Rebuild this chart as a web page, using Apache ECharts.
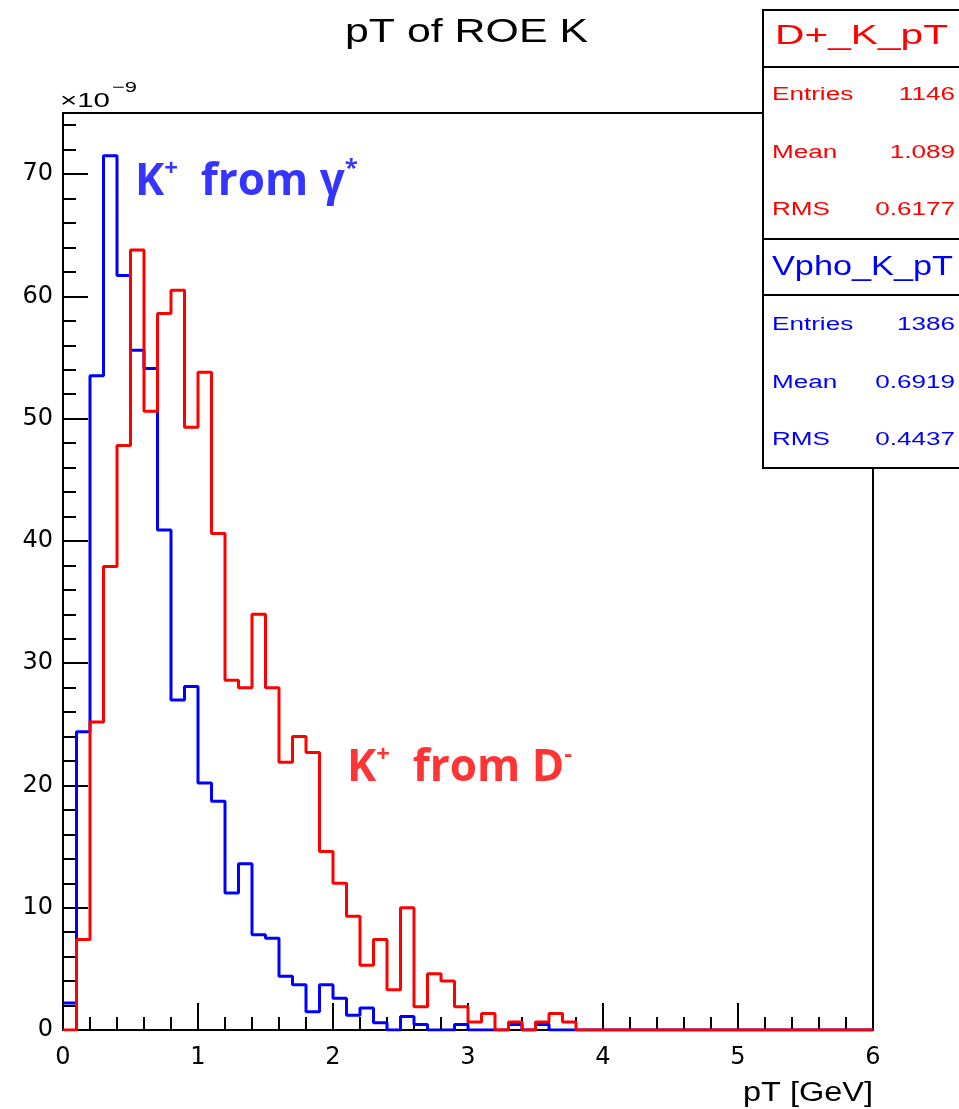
<!DOCTYPE html>
<html><head><meta charset="utf-8">
<script src="https://cdn.jsdelivr.net/npm/echarts@6/dist/echarts.min.js"></script>
<style>html,body{margin:0;padding:0;background:#fff}#c{width:959px;height:1109px}</style>
</head><body><div id="c"></div>
<script>
// ---------------- data ----------------
const binWidth = 0.1;                // GeV per bin, 60 bins from 0 to 6
const xTickLabels = ['0','1','2','3','4','5','6'];
const yTickLabels = ['0','10','20','30','40','50','60','70'];
const titleText = 'pT of ROE K';
const xAxisTitle = 'pT [GeV]';
const redName = 'D+_K_pT';
const blueName = 'Vpho_K_pT';
// bin contents (units of 1e-9)
const redValues = [
  0, 7.4, 25.2, 37.9, 47.8, 63.8, 50.6, 58.6, 60.5, 49.3,
  53.8, 40.6, 28.6, 28.0, 34.0, 28.0, 21.9, 24.0, 22.7, 14.6,
  12.0, 9.3, 5.3, 7.4, 3.3, 10.0, 1.9, 4.6, 4.0, 1.9,
  0.65, 1.35, 0, 0.65, 0, 0.65, 1.35, 0.65, 0, 0,
  0, 0, 0, 0, 0, 0, 0, 0, 0, 0,
  0, 0, 0, 0, 0, 0, 0, 0, 0, 0
];
const blueValues = [
  2.2, 24.4, 53.5, 71.5, 61.7, 55.6, 54.1, 40.9, 27.0, 28.1,
  20.2, 18.7, 11.2, 13.6, 7.8, 7.5, 4.4, 3.7, 1.5, 3.7,
  2.6, 1.2, 1.8, 0.6, 0, 1.1, 0.45, 0, 0, 0.45,
  0, 0, 0, 0.45, 0, 0.45, 0, 0, 0, 0,
  0, 0, 0, 0, 0, 0, 0, 0, 0, 0,
  0, 0, 0, 0, 0, 0, 0, 0, 0, 0
];
const redStats = [['Entries','1146'],['Mean','1.089'],['RMS','0.6177']];
const blueStats = [['Entries','1386'],['Mean','0.6919'],['RMS','0.4437']];

// ---------------- helpers ----------------
function stepData(vals){
  const d = vals.map((v,i)=>[+(i*binWidth).toFixed(2), v]);
  d.push([+(vals.length*binWidth).toFixed(2), vals[vals.length-1]]);
  return d;
}
const meas = document.createElement('canvas').getContext('2d');
function natWidth(text, size, family, weight){
  meas.font = (weight||'normal') + ' ' + size + 'px ' + family;
  return meas.measureText(text).width;
}
const LIB = '"Liberation Sans", Arial, sans-serif';
function txt(text, o){
  const fam = o.family || LIB;
  const sx = o.width ? o.width / natWidth(text, o.size, fam, o.weight) : (o.scaleX || 1);
  return {
    type:'text', z: 120, x:o.x, y:o.y, scaleX: sx, silent:true,
    style:{ text, x:0, y:0, fill:o.color||'#000', fontSize:o.size, fontFamily:fam,
      fontWeight:o.weight||'normal',
      align:o.align||'left', verticalAlign:'middle',
      textAlign:o.align||'left', textVerticalAlign:'middle' }
  };
}

// ---------------- layout ----------------
const GRID = {left:63, right:86, top:113, bottom:79};
const box = {x:763, y:10, w:205, h:458, sep:[67, 239, 295]};

const graphics = [];
// title
graphics.push(txt(titleText, {x:466.5, y:33, size:33, width:243, align:'center'}));
// x10^-9
graphics.push(txt('\u00d710', {x:60, y:101, size:21, width:50}));
graphics.push(txt('\u22129', {x:112, y:88, size:15, width:25}));
// axis title
graphics.push(txt(xAxisTitle, {x:873, y:1094, size:27, width:130, align:'right'}));
// stats box
graphics.push({type:'rect', z:110, silent:true, shape:{x:box.x, y:box.y, width:box.w, height:box.h},
  style:{fill:'#fff', stroke:'#000', lineWidth:2}});
box.sep.forEach(y => graphics.push({type:'line', z:111, silent:true,
  shape:{x1:box.x, y1:y, x2:box.x+box.w, y2:y}, style:{stroke:'#000', lineWidth:2}}));
graphics.push(txt(redName, {x:861.5, y:36, size:28, width:173, align:'center', color:'#ff0000'}));
graphics.push(txt(blueName, {x:862.5, y:267, size:28, width:181, align:'center', color:'#0000ff'}));
const redRows = [95, 153.5, 210];
const blueRows = [325, 383.5, 440];
redStats.forEach((r,i)=>{
  graphics.push(txt(r[0], {x:772, y:redRows[i], size:18, scaleX:1.45, color:'#ff0000'}));
  graphics.push(txt(r[1], {x:955, y:redRows[i], size:18, scaleX:1.45, align:'right', color:'#ff0000'}));
});
blueStats.forEach((r,i)=>{
  graphics.push(txt(r[0], {x:772, y:blueRows[i], size:18, scaleX:1.45, color:'#0000ff'}));
  graphics.push(txt(r[1], {x:955, y:blueRows[i], size:18, scaleX:1.45, align:'right', color:'#0000ff'}));
});
// annotations
function annot(parts, x, y, color){
  return {type:'text', z:120, x, y, silent:true,
    style:{ text: parts, x:0, y:0, fill:color, align:'left', verticalAlign:'middle',
      textAlign:'left', textVerticalAlign:'middle',
      rich:{
        b:{fontSize:44, fontWeight:'bold', fontFamily:'"Open Sans", sans-serif', fill:color, lineHeight:50},
        s:{fontSize:24, fontWeight:'bold', fontFamily:'"Open Sans", sans-serif', fill:color, verticalAlign:'top', lineHeight:30}
      } } };
}
graphics.push(annot('{b|K}{s|+}{b|  from \u03b3}{s|*}', 135, 182, '#3535ff'));
graphics.push(annot('{b|K}{s|+}{b|  from D}{s|-}', 347, 768, '#ff3535'));

const tickLine = {color:'#000', width:2};
const option = {
  animation:false,
  backgroundColor:'#fff',
  graphic: graphics,
  grid:[
    Object.assign({show:true, borderColor:'#000', borderWidth:2, backgroundColor:'transparent'}, GRID),
    Object.assign({show:false}, GRID)
  ],
  xAxis:[
    {gridIndex:0, type:'value', min:0, max:6, interval:1,
     axisLine:{show:true, lineStyle:tickLine},
     axisTick:{show:true, inside:true, length:27, lineStyle:tickLine},
     minorTick:{show:true, splitNumber:5, length:13, lineStyle:tickLine},
     splitLine:{show:false}, minorSplitLine:{show:false},
     axisLabel:{margin:16, color:'#000', fontSize:24, fontFamily:'"DejaVu Sans", sans-serif',
       formatter:(v)=>xTickLabels[Math.round(v)] ?? ''}},
    {gridIndex:1, type:'value', min:0, max:6, show:false}
  ],
  yAxis:[
    {gridIndex:0, type:'value', min:0, max:75, interval:10,
     axisLine:{show:true, lineStyle:tickLine},
     axisTick:{show:true, inside:true, length:25, lineStyle:tickLine},
     minorTick:{show:false},
     splitLine:{show:false},
     axisLabel:{margin:10, color:'#000', fontSize:24, fontFamily:'"DejaVu Sans", sans-serif',
       formatter:(v)=> (v % 10 === 0 && yTickLabels[v/10] !== undefined) ? yTickLabels[v/10] : ''}},
    {gridIndex:1, type:'value', min:0, max:75, interval:2,
     axisLine:{show:false},
     axisTick:{show:true, inside:true, length:13, lineStyle:tickLine},
     axisLabel:{show:false}, splitLine:{show:false}}
  ],
  series:[
    {name:blueName, type:'line', step:'end', xAxisIndex:0, yAxisIndex:0, data:stepData(blueValues),
     symbol:'none', showSymbol:false, lineStyle:{color:'#0000ff', width:3}, itemStyle:{color:'#0000ff'}, z:3, silent:true},
    {name:redName, type:'line', step:'end', xAxisIndex:0, yAxisIndex:0, data:stepData(redValues),
     symbol:'none', showSymbol:false, lineStyle:{color:'#ff0000', width:3}, itemStyle:{color:'#ff0000'}, z:4, silent:true}
  ]
};
const chart = echarts.init(document.getElementById('c'), null, {renderer:'canvas', width:959, height:1109});
chart.setOption(option);
</script>
</body></html>
